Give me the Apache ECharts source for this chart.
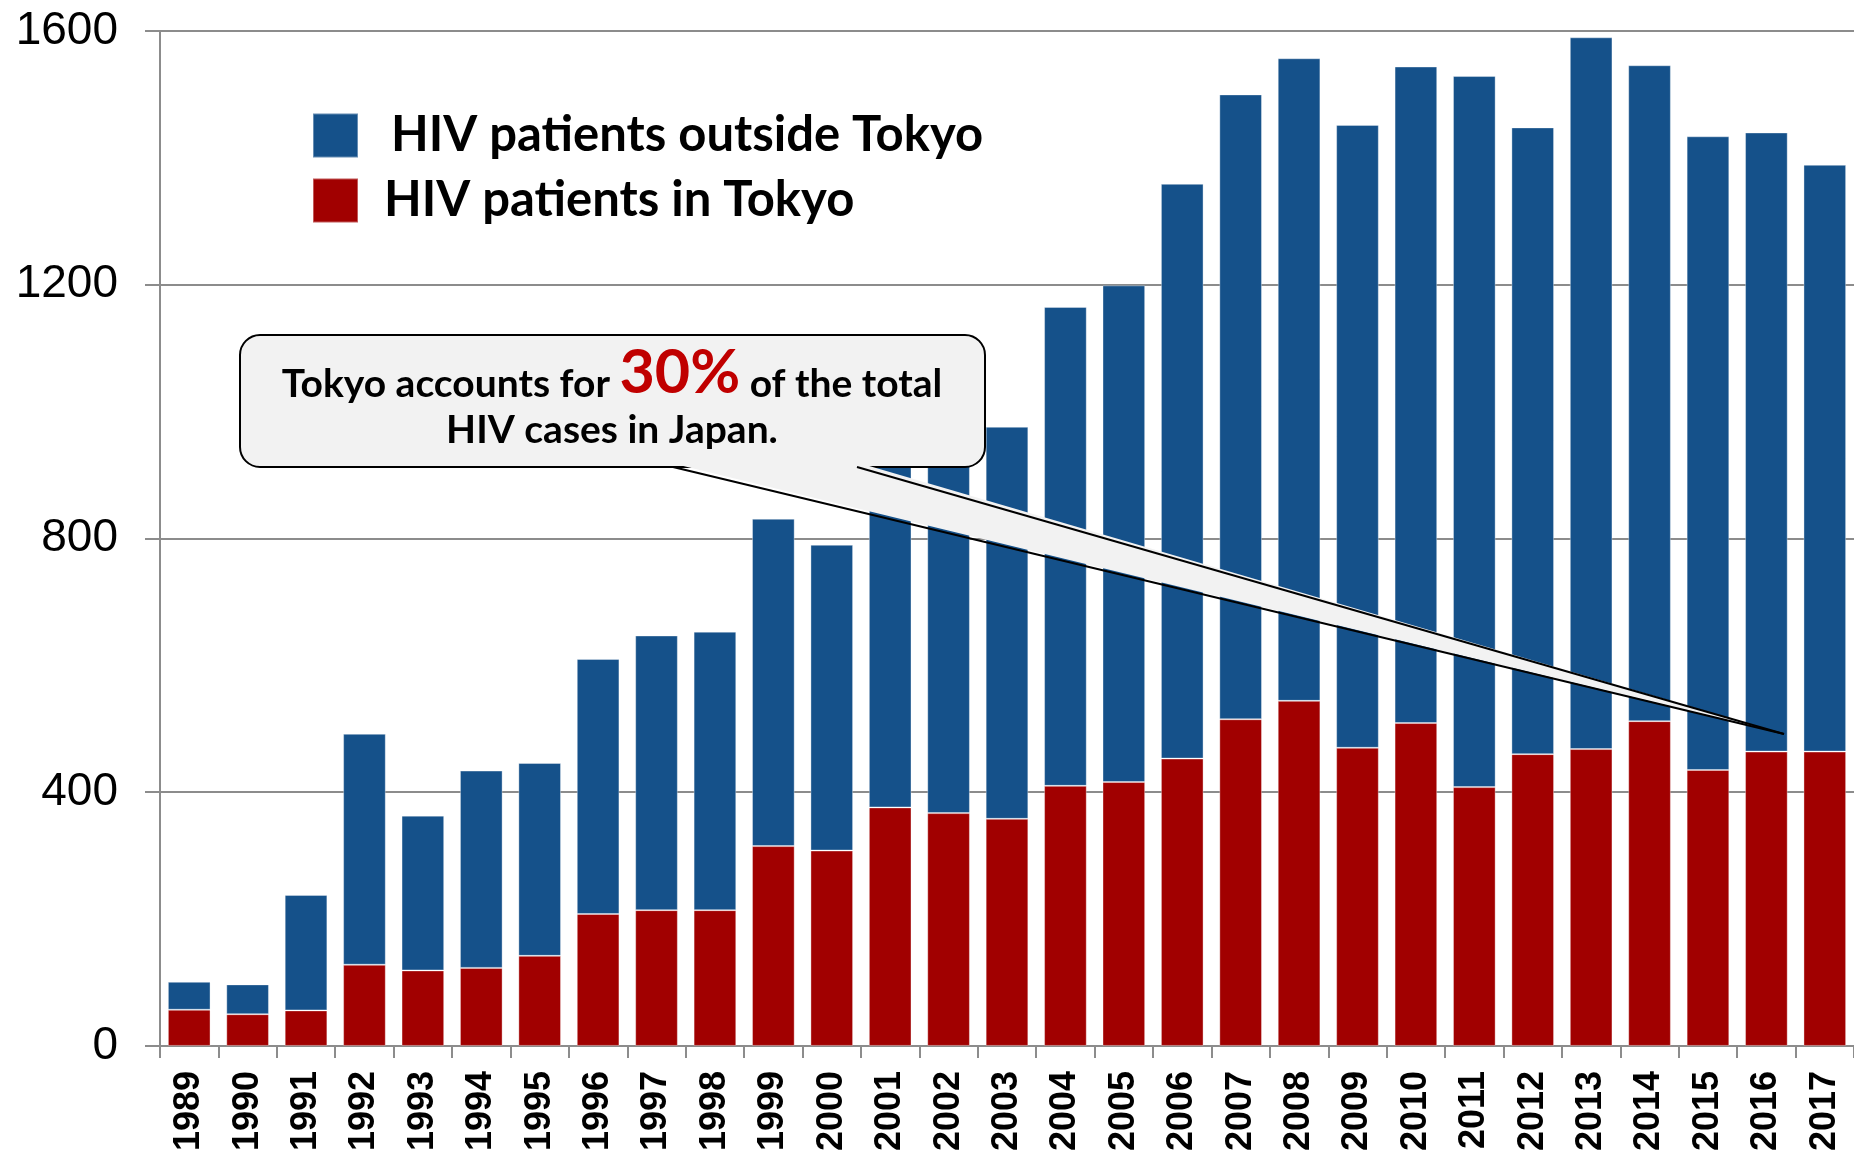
<!DOCTYPE html>
<html>
<head>
<meta charset="utf-8">
<title>HIV patients in Japan</title>
<script src="https://cdn.jsdelivr.net/npm/echarts@6/dist/echarts.min.js"></script>
<style>
  html, body { margin: 0; padding: 0; background: #fff; }
  #chart { width: 1854px; height: 1154px; }
</style>
</head>
<body>
<div id="chart"></div>
<script>
const years = ['1989', '1990', '1991', '1992', '1993', '1994', '1995', '1996', '1997', '1998',
  '1999', '2000', '2001', '2002', '2003', '2004', '2005', '2006', '2007', '2008',
  '2009', '2010', '2011', '2012', '2013', '2014', '2015', '2016', '2017']

// new reports per year
const tokyoData = [57, 50, 56, 128, 119, 123, 142, 208, 214, 214,
  315, 308, 376, 367, 358, 410, 416, 453, 515, 544,
  470, 509, 408, 460, 468, 512, 435, 464, 464]
const outsideData = [44, 47, 182, 364, 244, 311, 304, 402, 433, 439,
  516, 482, 574, 553, 618, 755, 783, 906, 985, 1013,
  982, 1035, 1121, 988, 1122, 1034, 999, 976, 925]

const yMin = 0
const yMax = 1600
const yStep = 400

const legendNames = ['HIV patients outside Tokyo', 'HIV patients in Tokyo']
const noteLine1 = ['Tokyo accounts for ', '30%', ' of the total']
const noteLine2 = 'HIV cases in Japan.'

const BLUE = '#15518a'
const RED = '#a10000'
const AXIS = '#8c8c8c'
const NOTE_FONT = 'Lato'

const chart = echarts.init(document.getElementById('chart'))

function calloutElements() {
  // speech bubble + pointer, drawn on top of the bars
  const boxStyle = { fill: '#f2f2f2', stroke: '#000', lineWidth: 2 }
  const tip = [1784, 734]
  const small = { fontFamily: NOTE_FONT, fontWeight: 'bold', fontSize: 39, lineHeight: 48, verticalAlign: 'bottom', fill: '#000' }
  return [
    { type: 'rect', z: 100, shape: { x: 240, y: 335, width: 745, height: 132, r: 20 }, style: boxStyle },
    { type: 'polygon', z: 101, shape: { points: [[671, 463], [859, 463], tip] }, style: { fill: '#f2f2f2' } },
    { type: 'line', z: 102, shape: { x1: 673, y1: 467, x2: tip[0], y2: tip[1] }, style: { stroke: '#000', lineWidth: 2 } },
    { type: 'line', z: 102, shape: { x1: 857, y1: 467, x2: tip[0], y2: tip[1] }, style: { stroke: '#000', lineWidth: 2 } },
    {
      type: 'text',
      z: 103,
      x: 612,
      y: 404,
      style: {
        text: '{a|' + noteLine1[0] + '}{b|' + noteLine1[1] + '}{a|' + noteLine1[2] + '}',
        align: 'center',
        verticalAlign: 'bottom',
        rich: {
          a: small,
          b: { fontFamily: NOTE_FONT, fontWeight: 'bold', fontSize: 61, lineHeight: 62, verticalAlign: 'bottom', fill: '#c00000' }
        }
      }
    },
    {
      type: 'text',
      z: 103,
      x: 612,
      y: 450,
      style: {
        text: '{a|' + noteLine2 + '}',
        align: 'center',
        verticalAlign: 'bottom',
        rich: { a: small }
      }
    }
  ]
}

chart.setOption({
  backgroundColor: '#fff',
  animation: false,
  grid: {
    left: 160,
    right: 0,
    top: 31,
    bottom: 107
  },
  legend: {
    orient: 'vertical',
    left: 312,
    top: 111,
    padding: 0,
    icon: 'rect',
    itemWidth: 45,
    itemHeight: 44,
    itemGap: 16,
    selectedMode: false,
    textStyle: {
      fontFamily: NOTE_FONT,
      fontWeight: 'bold',
      fontSize: 49,
      lineHeight: 44,
      color: '#000'
    },
    data: [
      { name: legendNames[0], textStyle: { padding: [0, 0, 0, 28] } },
      { name: legendNames[1], textStyle: { padding: [0, 0, 0, 21] } }
    ]
  },
  xAxis: {
    type: 'category',
    data: years,
    axisLine: { lineStyle: { color: AXIS, width: 2 } },
    axisTick: { show: true, length: 12, lineStyle: { color: AXIS, width: 2 } },
    axisLabel: {
      rotate: 90,
      margin: 25,
      fontFamily: 'Liberation Sans',
      fontWeight: 'bold',
      fontSize: 36,
      color: '#000'
    }
  },
  yAxis: {
    type: 'value',
    min: yMin,
    max: yMax,
    interval: yStep,
    axisLine: { show: true, lineStyle: { color: AXIS, width: 2 } },
    axisTick: { show: true, length: 15, lineStyle: { color: AXIS, width: 2 } },
    splitLine: { lineStyle: { color: AXIS, width: 2 } },
    axisLabel: {
      margin: 42,
      fontFamily: 'Liberation Sans',
      fontSize: 46,
      color: '#000',
      formatter: value => String(value)
    }
  },
  series: [
    {
      name: legendNames[1],
      type: 'bar',
      stack: 'hiv',
      barCategoryGap: '27%',
      itemStyle: { color: RED, borderColor: 'rgba(255,255,255,0.35)', borderWidth: 1 },
      data: tokyoData
    },
    {
      name: legendNames[0],
      type: 'bar',
      stack: 'hiv',
      barCategoryGap: '27%',
      itemStyle: { color: BLUE, borderColor: 'rgba(255,255,255,0.35)', borderWidth: 1 },
      data: outsideData
    }
  ],
  graphic: {
    elements: calloutElements()
  }
})
</script>
</body>
</html>
